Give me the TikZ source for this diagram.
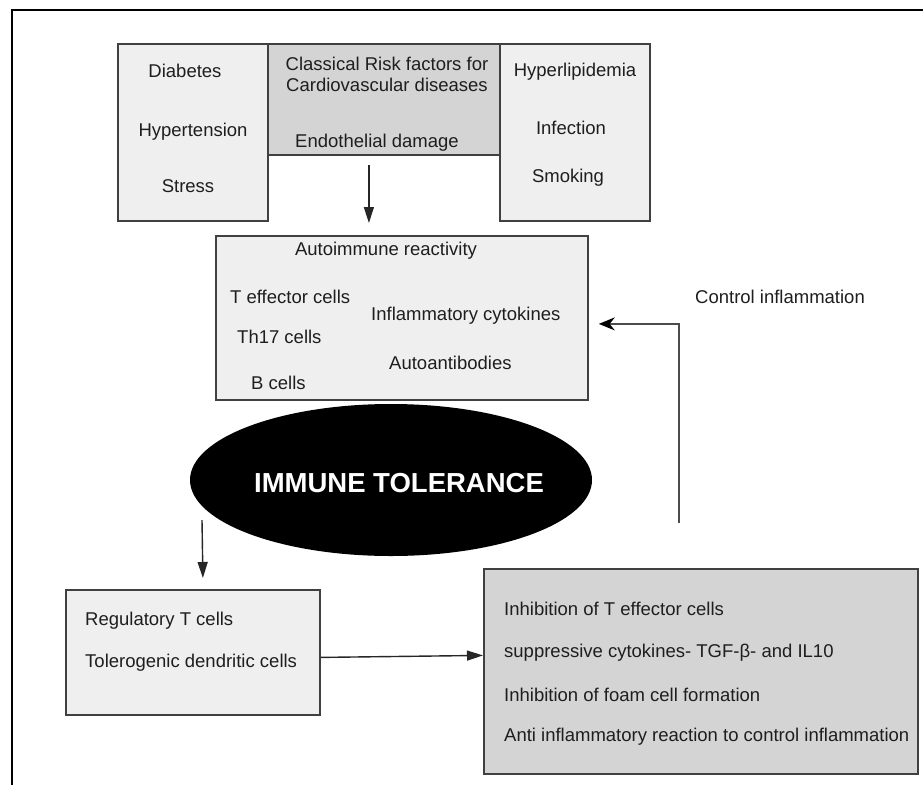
\documentclass[tikz,border=0pt]{standalone}
\usepackage{fontspec}
\setmainfont{Liberation Sans}
\usetikzlibrary{calc}
\usetikzlibrary{arrows.meta}
\usetikzlibrary{shapes.geometric}

\definecolor{boxline}{HTML}{404040}
\definecolor{lightfill}{HTML}{EFEFEF}
\definecolor{darkfill}{HTML}{D4D4D4}
\definecolor{txt}{HTML}{1E1E1E}

\tikzset{
  box/.style={draw=boxline,line width=1.8pt,rectangle,inner sep=0pt,anchor=north west},
  lightbox/.style={box,fill=lightfill},
  darkbox/.style={box,fill=darkfill},
  lbl/.style={text=txt,inner sep=0pt,font=\fontsize{18.5}{21}\selectfont},
  arr/.style={-{Triangle[length=16pt,width=10pt]},line width=1.4pt,draw=black!85},
  backarr/.style={-{Stealth[length=16pt,width=13pt,black]},line width=1.6pt,draw=black!70},
}

\begin{document}
\begin{tikzpicture}[x=1pt,y=-1pt]
\useasboundingbox (0,0) rectangle (923,785);
\draw[line width=2pt] (12,785) -- (12,10) -- (923,10);

% risk factors
\node[lightbox,minimum width=150pt,minimum height=177pt] (lbox) at (117,43) {};
\node[darkbox,minimum width=232pt,minimum height=111pt] (cbox) at (267,43) {};
\node[lightbox,minimum width=150pt,minimum height=177pt] (rbox) at (499,43) {};

\node[lbl] (diab) at (185,71) {Diabetes};
\node[lbl] (hyper) at (193,132) {Hypertension};
\node[lbl] (stress) at (188,186) {Stress};

\node[lbl,align=center] (classic) at (387,74) {Classical Risk factors for\\Cardiovascular diseases};
\node[lbl] (endo) at (377,143) {Endothelial damage};

\node[lbl] (lipid) at (575,72) {Hyperlipidemia};
\node[lbl] (infec) at (571,128) {Infection};
\node[lbl] (smoke) at (568,178) {Smoking};

% autoimmune reactivity
\node[lightbox,minimum width=372pt,minimum height=164pt] (abox) at (215,235) {};
\node[lbl] (auto) at (386,251) {Autoimmune reactivity};
\node[lbl,anchor=west] (teff) at (230,297) {T effector cells};
\node[lbl,anchor=west] (infl) at (371,316) {Inflammatory cytokines};
\node[lbl,anchor=west] (th17) at (237,337) {Th17 cells};
\node[lbl,anchor=west] (aab) at (389,363) {Autoantibodies};
\node[lbl,anchor=west] (bcell) at (251,383) {B cells};

\node[lbl,anchor=west] (ctrl) at (695,297) {Control inflammation};

% tolerance
\node[ellipse,fill=black,minimum width=402pt,minimum height=152pt,inner sep=0pt] (imm) at (391,480) {};
\node[text=white,inner sep=0pt,font=\bfseries\fontsize{27.5}{30}\selectfont] (immtxt) at (399,483) {IMMUNE TOLERANCE};

\node[lightbox,minimum width=254pt,minimum height=125pt] (regbox) at (65,589) {};
\node[lbl,anchor=west] (treg) at (85,621) {Regulatory T cells};
\node[lbl,anchor=west] (tdc) at (85,663) {Tolerogenic dendritic cells};

\node[darkbox,minimum width=434pt,minimum height=205pt] (sbox) at (483,568) {};
\node[lbl,anchor=west] (inh) at (504,609) {Inhibition of T effector cells};
\node[lbl,anchor=west] (supp) at (504,653) {suppressive cytokines- TGF-β- and IL10};
\node[lbl,anchor=west] (foam) at (504,695) {Inhibition of foam cell formation};
\node[lbl,anchor=west] (anti) at (504,737) {Anti inflammatory reaction to control inflammation};

% connectors
\draw[arr] ([shift={(-15,9)}]cbox.south) -- ([shift={(-33,-12)}]abox.north);
\draw[backarr] ([shift={(-22,-45)}]sbox.north) |- ([shift={(10,6)}]abox.east);
\draw[arr] ([shift={(-189,40)}]imm.center) -- ([shift={(10,-11)}]regbox.north);
\draw[arr] ([shift={(0,5)}]regbox.east) -- ([shift={(0,-16)}]sbox.west);

\end{tikzpicture}
\end{document}
